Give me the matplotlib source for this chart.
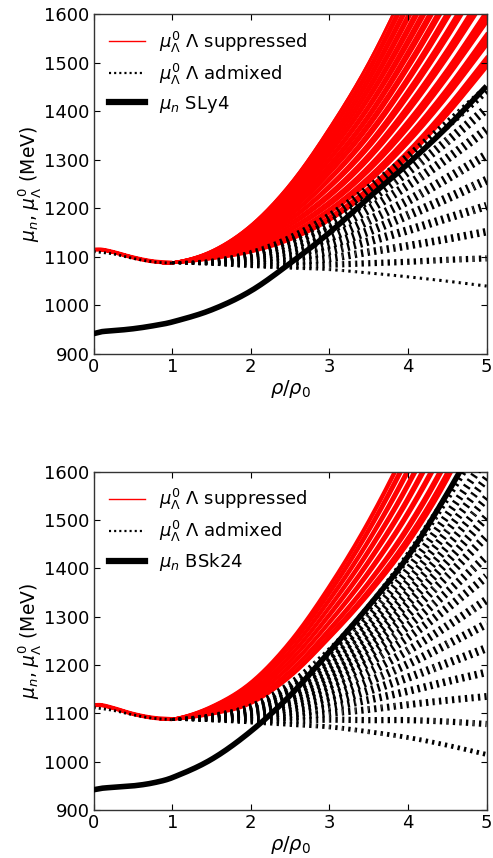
import numpy as np
import matplotlib
matplotlib.use("Agg")
import matplotlib.pyplot as plt
from matplotlib.lines import Line2D

plt.rcParams['font.family'] = ['DejaVu Sans']
plt.rcParams['mathtext.fontset'] = 'dejavusans'
plt.rcParams['lines.scale_dashes'] = False

# ---------------- data ----------------
# density knots rho/rho0
X_RED_HEAD = [0.0, 0.1, 0.25, 0.5, 0.75, 1.0]
X_TAIL = [1.5, 2.0, 2.5, 3.0, 3.5, 4.0, 4.5, 5.0]
X_DOT_HEAD = [0.0, 0.25, 0.5, 0.75, 1.0]
X_DOT = [1.0, 1.5, 2.0, 2.5, 3.0, 3.5, 4.0, 4.5, 5.0]
X_MUN = [0.0, 0.1, 0.25, 0.5, 0.75, 1.0, 1.5, 2.0, 2.5, 3.0, 3.5, 4.0, 4.5, 5.0]

# ---- panel 1: SLy4 ----
sly4_red_head = [1115, 1115, 1110, 1099, 1091, 1088]
# suppressed bundles: (lower edge, upper edge) on X_TAIL
sly4_red_bundles = [
    ([1096, 1110, 1135, 1175, 1232, 1305, 1392, 1490], [1097, 1112, 1140, 1183, 1243, 1319, 1410, 1512]),
    ([1097, 1114, 1144, 1190, 1253, 1334, 1429, 1535], [1098, 1117, 1149, 1199, 1266, 1350, 1449, 1560]),
    ([1099, 1119, 1154, 1206, 1276, 1364, 1468, 1582], [1099, 1122, 1159, 1215, 1288, 1381, 1488, 1608]),
    ([1100, 1124, 1164, 1223, 1300, 1397, 1509, 1633], [1101, 1127, 1170, 1232, 1312, 1413, 1529, 1658]),
    ([1102, 1129, 1175, 1241, 1324, 1429, 1550, 1683], [1102, 1131, 1179, 1248, 1335, 1444, 1568, 1706]),
    ([1103, 1134, 1184, 1257, 1347, 1460, 1589, 1731], [1103, 1136, 1188, 1263, 1357, 1472, 1605, 1750]),
    ([1104, 1138, 1193, 1271, 1367, 1487, 1623, 1773], [1105, 1140, 1197, 1278, 1377, 1499, 1639, 1792]),
    ([1105, 1142, 1201, 1284, 1386, 1512, 1655, 1812], [1106, 1144, 1205, 1291, 1395, 1525, 1671, 1832]),
    ([1106, 1145, 1209, 1298, 1405, 1537, 1687, 1851], [1107, 1147, 1213, 1304, 1414, 1550, 1703, 1871]),
    ([1107, 1149, 1217, 1311, 1424, 1562, 1719, 1890], [1108, 1151, 1221, 1318, 1433, 1575, 1735, 1910]),
    ([1109, 1153, 1225, 1324, 1442, 1588, 1751, 1930], [1109, 1155, 1229, 1331, 1452, 1600, 1767, 1949]),
    ([1110, 1157, 1233, 1337, 1461, 1613, 1783, 1969], [1110, 1159, 1237, 1344, 1471, 1625, 1799, 1988]),
    ([1111, 1161, 1241, 1351, 1480, 1638, 1815, 2008], [1111, 1163, 1245, 1357, 1489, 1651, 1831, 2028]),
    ([1112, 1165, 1250, 1365, 1500, 1665, 1850, 2050], [1112, 1165, 1250, 1365, 1500, 1665, 1850, 2050]),
]
sly4_dot_head = [1111, 1106, 1097, 1090, 1087]
sly4_dot_bands = [
    [1087, 1084, 1080, 1077, 1074, 1067, 1059, 1050, 1040],
    [1087, 1085, 1082, 1082, 1084, 1087, 1090, 1094, 1097],
    [1087, 1086, 1086, 1090, 1097, 1110, 1123, 1137, 1152],
    [1087, 1087, 1090, 1098, 1112, 1132, 1155, 1180, 1205],
    [1088, 1088, 1094, 1106, 1126, 1153, 1186, 1221, 1258],
    [1088, 1089, 1098, 1114, 1140, 1175, 1216, 1262, 1310],
    [1088, 1090, 1101, 1122, 1155, 1198, 1248, 1303, 1362],
    [1088, 1091, 1104, 1130, 1168, 1218, 1276, 1339, 1405],
    [1088, 1092, 1107, 1137, 1182, 1240, 1305, 1373, 1445],
]
sly4_mun = [942, 946, 948, 952, 958, 966, 991, 1030, 1087, 1150, 1222, 1292, 1368, 1452]

# ---- panel 2: BSk24 ----
bsk24_red_head = [1117, 1117, 1111, 1099, 1091, 1088]
bsk24_red_bundles = [
    ([1098, 1120, 1175, 1255, 1345, 1450, 1582, 1750], [1099, 1123, 1180, 1263, 1356, 1465, 1601, 1772]),
    ([1100, 1126, 1186, 1270, 1367, 1479, 1620, 1795], [1101, 1129, 1189, 1276, 1374, 1490, 1633, 1811]),
    ([1103, 1133, 1196, 1286, 1388, 1509, 1657, 1840], [1104, 1135, 1200, 1291, 1396, 1519, 1670, 1856]),
    ([1105, 1139, 1207, 1301, 1410, 1538, 1695, 1884], [1106, 1141, 1210, 1307, 1418, 1549, 1708, 1900]),
    ([1108, 1145, 1217, 1317, 1432, 1568, 1732, 1929], [1108, 1147, 1221, 1322, 1440, 1578, 1746, 1945]),
    ([1110, 1152, 1228, 1332, 1454, 1597, 1770, 1974], [1111, 1154, 1231, 1338, 1461, 1608, 1783, 1990]),
    ([1112, 1158, 1238, 1347, 1475, 1626, 1807, 2019], [1113, 1160, 1242, 1353, 1483, 1637, 1821, 2035]),
    ([1114, 1163, 1247, 1361, 1494, 1652, 1839, 2057], [1115, 1165, 1250, 1365, 1500, 1660, 1850, 2070]),
]
bsk24_dot_head = [1112, 1106, 1097, 1090, 1087]
bsk24_dot_bands = [
    [1087, 1084, 1081, 1077, 1072, 1062, 1050, 1034, 1015],
    [1087, 1085, 1084, 1085, 1087, 1086, 1086, 1083, 1078],
    [1087, 1086, 1087, 1092, 1100, 1108, 1118, 1127, 1135],
    [1087, 1087, 1090, 1098, 1112, 1128, 1146, 1166, 1185],
    [1087, 1088, 1092, 1105, 1124, 1147, 1174, 1204, 1235],
    [1087, 1089, 1095, 1111, 1135, 1166, 1202, 1243, 1285],
    [1087, 1090, 1097, 1117, 1147, 1185, 1230, 1281, 1335],
    [1088, 1091, 1100, 1123, 1158, 1204, 1257, 1318, 1383],
    [1088, 1092, 1102, 1128, 1168, 1220, 1281, 1351, 1425],
    [1088, 1093, 1104, 1133, 1178, 1236, 1305, 1384, 1467],
    [1088, 1094, 1106, 1138, 1187, 1251, 1328, 1414, 1507],
    [1088, 1094, 1108, 1143, 1197, 1267, 1350, 1445, 1547],
    [1088, 1095, 1110, 1148, 1207, 1283, 1373, 1477, 1588],
    [1088, 1096, 1113, 1154, 1216, 1299, 1397, 1510, 1630],
    [1088, 1097, 1115, 1160, 1228, 1318, 1425, 1548, 1680],
]
bsk24_mun = [942, 945, 947, 950, 956, 967, 1005, 1063, 1137, 1228, 1322, 1425, 1555, 1700]

X_TICKS = [0, 1, 2, 3, 4, 5]
Y_TICKS = [900, 1000, 1100, 1200, 1300, 1400, 1500, 1600]
EOS_NAMES = ["SLy4", "BSk24"]

# ---------------- styles ----------------
RED = '#ff0000'
DASH_ON, DASH_OFF = 1.7, 3.0
sly4_band_lw = [2.2, 4.5, 5.5, 6.0, 6.5, 6.5, 6.5, 6.5, 6.5]
bsk24_band_lw = [3.5, 4.5, 5.0, 5.5, 6.0, 6.0, 6.0, 6.0, 6.0, 6.0, 6.0, 5.5, 5.5, 5.5, 5.5]
TAPER_X = [1.0, 1.5, 2.0, 2.6]
TAPER_F = [0.25, 0.45, 0.75, 1.0]


def smooth(xk, yk, n=24):
    """Smooth cubic Hermite rendering through the read knots."""
    xk = np.asarray(xk, float)
    yk = np.asarray(yk, float)
    m = np.empty_like(yk)
    m[1:-1] = (yk[2:] - yk[:-2]) / (xk[2:] - xk[:-2])
    m[0] = (yk[1] - yk[0]) / (xk[1] - xk[0])
    m[-1] = (yk[-1] - yk[-2]) / (xk[-1] - xk[-2])
    xs, ys = [], []
    for i in range(len(xk) - 1):
        h = xk[i + 1] - xk[i]
        t = np.linspace(0, 1, n, endpoint=False)
        h00 = 2 * t**3 - 3 * t**2 + 1
        h10 = t**3 - 2 * t**2 + t
        h01 = -2 * t**3 + 3 * t**2
        h11 = t**3 - t**2
        xs.append(xk[i] + t * h)
        ys.append(h00 * yk[i] + h10 * h * m[i] + h01 * yk[i + 1] + h11 * h * m[i + 1])
    xs.append([xk[-1]])
    ys.append([yk[-1]])
    return np.concatenate(xs), np.concatenate(ys)


fig = plt.figure(figsize=(4.93, 8.58), dpi=100)
ax1 = fig.add_axes([0.190, 0.5874, 0.797, 0.396])
ax2 = fig.add_axes([0.190, 0.0559, 0.797, 0.3943])

panels = [
    (ax1, sly4_red_head, sly4_red_bundles, sly4_dot_head, sly4_dot_bands, sly4_band_lw, sly4_mun, EOS_NAMES[0]),
    (ax2, bsk24_red_head, bsk24_red_bundles, bsk24_dot_head, bsk24_dot_bands, bsk24_band_lw, bsk24_mun, EOS_NAMES[1]),
]

period = DASH_ON + DASH_OFF

for ax, rhead, bundles, dhead, dbands, blw, mun, name in panels:
    ax.set_xlim(0, 5)
    ax.set_ylim(900, 1600)

    # suppressed
    hx, hy = smooth(X_RED_HEAD, rhead)
    ax.plot(hx, hy, color=RED, lw=3.0, solid_capstyle='butt', zorder=1.5)
    for lo, hi in bundles:
        xs = X_RED_HEAD + X_TAIL
        sx, ylo = smooth(xs, rhead + lo)
        _, yhi = smooth(xs, rhead + hi)
        ax.fill_between(sx, ylo, yhi, color=RED, lw=0, zorder=1)
        ax.plot(sx, ylo, color=RED, lw=2.0, zorder=1.5)
        ax.plot(sx, yhi, color=RED, lw=2.0, zorder=1.5)

    # admixed (thin part at low density)
    dx, dy = smooth(X_DOT_HEAD, dhead)
    ax.plot(dx, dy, color='k', lw=2.0, linestyle=(0, (1.5, 2.2)), zorder=2)

    # admixed bundles: drawn piecewise so the bundle thickness grows with density,
    # keeping the dot pattern continuous
    for band, w in zip(dbands, blw):
        bx, by = smooth(X_DOT, band)
        disp = ax.transData.transform(np.column_stack([bx, by]))
        seg = np.hypot(np.diff(disp[:, 0]), np.diff(disp[:, 1])) * 72.0 / fig.dpi
        cum = np.concatenate([[0.0], np.cumsum(seg)])
        step = 8
        for s in range(0, len(bx) - 1, step):
            e = min(s + step, len(bx) - 1)
            xm = 0.5 * (bx[s] + bx[e])
            lw = w * np.interp(xm, TAPER_X, TAPER_F)
            off = cum[s] % period
            ax.plot(bx[s:e + 1], by[s:e + 1], color='k', lw=lw,
                    linestyle=(off, (DASH_ON, DASH_OFF)),
                    dash_capstyle='butt', zorder=3)

    # neutron chemical potential
    mx, my = smooth(X_MUN, mun)
    ax.plot(mx, my, color='k', lw=4.0, solid_capstyle='butt', zorder=4)

    ax.set_xticks(X_TICKS)
    ax.set_yticks(Y_TICKS)
    ax.tick_params(direction='in', top=True, right=True, labelsize=13,
                   length=4, width=0.8, pad=3)
    for sp in ax.spines.values():
        sp.set_linewidth(1.0)
        sp.set_color('#333333')
    ax.set_xlabel(r'$\rho/\rho_0$', fontsize=14, labelpad=1)
    ax.set_ylabel(r'$\mu_n$, $\mu^0_\Lambda$ (MeV)', fontsize=13.5, labelpad=1)

    handles = [
        Line2D([], [], color=RED, lw=1.0),
        Line2D([], [], color='k', lw=1.6, linestyle=(0, (1.5, 2.2))),
        Line2D([], [], color='k', lw=4.5),
    ]
    labels = [r'$\mu^0_\Lambda$ $\Lambda$ suppressed',
              r'$\mu^0_\Lambda$ $\Lambda$ admixed',
              r'$\mu_n$ ' + name]
    ax.legend(handles, labels, loc='upper left', frameon=False, fontsize=13,
              handlelength=2.0, handletextpad=0.75, labelspacing=0.38,
              borderaxespad=0.45)

fig.savefig('out.png', dpi=100)
